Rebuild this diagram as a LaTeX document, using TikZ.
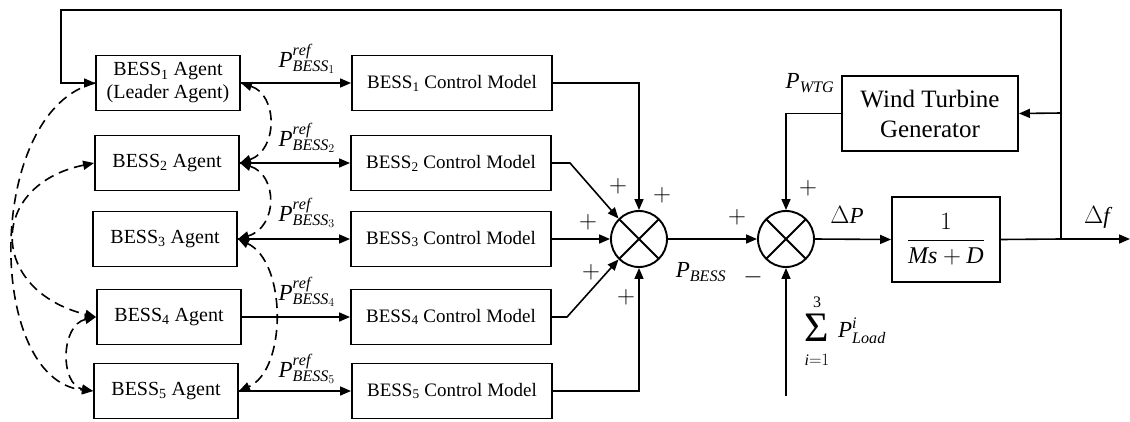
\documentclass[tikz,border=0pt]{standalone}
\usepackage{fontspec}
\setmainfont{Liberation Serif}
\usetikzlibrary{arrows.meta,calc}

\begin{document}
\begin{tikzpicture}[x=1pt,y=-1pt,
  blk/.style={draw, line width=1.9pt, inner sep=0pt, align=center,
    font=\fontsize{20}{23}\selectfont},
  agent/.style={blk, minimum width=144pt, minimum height=55pt},
  ctrl/.style={blk, minimum width=200pt, minimum height=55pt, font=\fontsize{19}{23}\selectfont},
  wire/.style={line width=1.6pt},
  arr/.style={wire, -{Triangle[length=11pt,width=9pt]}},
  link/.style={line width=1.6pt, dash pattern=on 10pt off 6pt},
  both/.style={link, {Triangle[length=11pt,width=9pt]}-{Triangle[length=11pt,width=9pt]}},
  sumj/.style={circle, draw, line width=1.9pt, minimum size=56pt, inner sep=0pt,
    path picture={\draw[line width=1.9pt]
      (path picture bounding box.north west) -- (path picture bounding box.south east)
      (path picture bounding box.north east) -- (path picture bounding box.south west);}},
  lbl/.style={inner sep=0pt, font=\fontsize{23}{26}\selectfont},
  lim/.style={inner sep=0pt, font=\fontsize{16}{18}\selectfont},
  sgn/.style={inner sep=0pt, font=\fontsize{28}{30}\selectfont}]

\useasboundingbox (0,0) rectangle (1130,421);

% agents
\node[agent] (a1) at (168,83) {BESS\textsubscript{1} Agent\\(Leader Agent)};
\node[agent] (a2) at (167,163) {BESS\textsubscript{2} Agent};
\node[agent] (a3) at (165,239) {BESS\textsubscript{3} Agent};
\node[agent] (a4) at (169,317) {BESS\textsubscript{4} Agent};
\node[agent] (a5) at (166,391) {BESS\textsubscript{5} Agent};

% control models
\node[ctrl] (c1) at (452,83) {BESS\textsubscript{1} Control Model};
\node[ctrl] (c2) at (451,163) {BESS\textsubscript{2} Control Model};
\node[ctrl] (c3) at (451,239) {BESS\textsubscript{3} Control Model};
\node[ctrl] (c4) at (451,317) {BESS\textsubscript{4} Control Model};
\node[ctrl] (c5) at (452,391) {BESS\textsubscript{5} Control Model};

% summing junctions
\node[sumj] (s1) at (639,239) {};
\node[sumj] (s2) at (786,239) {};

% plant blocks
\node[blk, minimum width=176pt, minimum height=75pt, font=\fontsize{25}{30}\selectfont] (wtg) at (930,113.5)
  {Wind Turbine\\Generator};
\node[blk, minimum width=108pt, minimum height=85pt, font=\fontsize{24}{28}\selectfont] (tf) at (946,239.5)
  {$\displaystyle\frac{1}{\mathit{Ms}+\mathit{D}}$};

% junction points
\coordinate (br) at (1061,239);
\coordinate (bw) at (1061,113);
\coordinate (tr) at (1061,10);
\coordinate (tl) at (61,10);
\coordinate (lb) at (61,83);
\coordinate (out) at (1130,239);
\coordinate (ld) at (786,396);
\coordinate (k2) at (570,163);
\coordinate (k4) at (567,317);

% reference signals
\foreach \i in {1,...,5} \draw[arr] (a\i.east) -- (c\i.west);
\node[lbl] (p1) at (307,59) {$\mathit{P}^{\mathit{ref}}_{\mathit{BESS}_{1}}$};
\node[lbl] (p2) at (307,138) {$\mathit{P}^{\mathit{ref}}_{\mathit{BESS}_{2}}$};
\node[lbl] (p3) at (307,213) {$\mathit{P}^{\mathit{ref}}_{\mathit{BESS}_{3}}$};
\node[lbl] (p4) at (307,292) {$\mathit{P}^{\mathit{ref}}_{\mathit{BESS}_{4}}$};
\node[lbl] (p5) at (307,369) {$\mathit{P}^{\mathit{ref}}_{\mathit{BESS}_{5}}$};

% into the first junction
\draw[arr] (c1.east) -| (s1.north);
\draw[arr] (c2.east) -- (k2) -- (s1.135);
\draw[arr] (c3.east) -- (s1.west);
\draw[arr] (c4.east) -- (k4) -- (s1.225);
\draw[arr] (c5.east) -| (s1.south);

% power balance and frequency loop
\draw[arr] (s1.east) -- (s2.west);
\draw[arr] (s2.east) -- (tf.west);
\draw[wire] (tf.east) -- (br);
\draw[arr] (br) -- (out);
\draw[arr] (br) -- (tr) -- (tl) -- (lb) -- (a1.west);
\draw[arr] (bw) -- (wtg.east);
\draw[arr] (wtg.west) -| (s2.north);
\draw[arr] (ld) -- (s2.south);

% communication links between agents
\draw[both] (a1.east) .. controls (278,95) and (278,150) .. (a2.east);
\draw[both] (a2.east) .. controls (278,175) and (278,227) .. (a3.east);
\draw[both] (a3.east) .. controls (287,262) and (287,370) .. (a5.east);
\draw[link, -{Triangle[length=11pt,width=9pt]}]
  (a1.west) .. controls (-15,110) and (-15,380) .. (a5.west);
\draw[both] (a2.west) .. controls (-12,185) and (-12,290) .. (a4.west);
\draw[both] (a4.west) .. controls (60,325) and (60,385) .. (a5.west);

% signal labels
\node[lbl] (pb) at (701,272) {$\mathit{P}_{\mathit{BESS}}$};
\node[lbl] (pw) at (810,83) {$\mathit{P}_{\mathit{WTG}}$};
\node[lbl] (dp) at (847,215) {$\Delta\mathit{P}$};
\node[lbl] (df) at (1097,217) {$\Delta\mathit{f}$};

% load disturbance: sum over the three loads
\node[inner sep=0pt, font=\fontsize{42}{44}\selectfont] (sg) at (817,328) {Σ};
\node[lim] (su) at (817,302) {3};
\node[lim] (sl) at (817,360) {$\mathit{i}{=}1$};
\node[lbl] (pl) at (862,331) {$\mathit{P}^{\mathit{i}}_{\mathit{Load}}$};

% signs
\node[sgn] (g1) at (618,186) {$+$};
\node[sgn] (g2) at (662,195) {$+$};
\node[sgn] (g3) at (588,222) {$+$};
\node[sgn] (g4) at (591,272) {$+$};
\node[sgn] (g5) at (626,297) {$+$};
\node[sgn] (g6) at (737,217) {$+$};
\node[sgn] (g7) at (808,188) {$+$};
\node[sgn] (g8) at (753,277) {$-$};
\end{tikzpicture}
\end{document}
